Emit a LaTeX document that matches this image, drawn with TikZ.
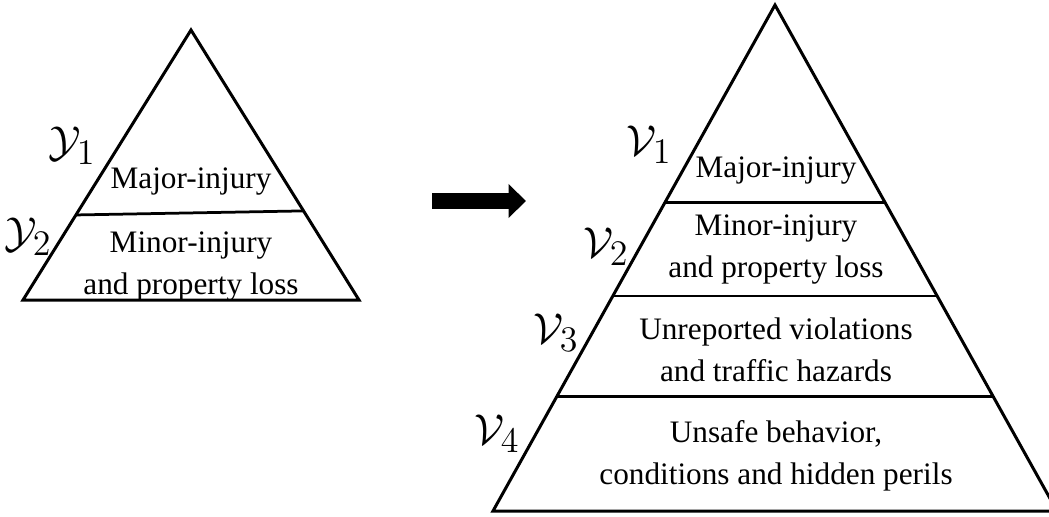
\documentclass[tikz,border=0pt]{standalone}
\usepackage{fontspec}
\setmainfont{Liberation Serif}
\usepackage{amsmath}
\usetikzlibrary{arrows.meta,calc}

\begin{document}
\begin{tikzpicture}[x=0.4pt,y=-0.4pt,
  edge/.style={line width=1.2pt, line join=miter},
  split/.style={line width=1.1pt},
  layer/.style={font=\fontsize{12.5}{16.8}\selectfont, align=center, inner sep=0pt},
  tag/.style={font=\fontsize{19}{19}\selectfont, inner sep=0pt}]
  \useasboundingbox (0,0) rectangle (1049,516);

  % Left pyramid
  \coordinate (ltop) at (191,30);
  \coordinate (lleft) at (23,300);
  \coordinate (lright) at (359,300);
  \draw[edge] (ltop) -- (lleft) -- (lright) -- cycle;
  \draw[split] ($(ltop)!0.685!(lleft)$) -- ($(ltop)!0.67!(lright)$);

  \node[layer] (lmajor) at (191,182) {Major-injury};
  \node[layer] (lminor) at (191,267) {Minor-injury\\and property loss};
  \node[tag] (y1) at (72,146) {$\mathcal{Y}_1$};
  \node[tag] (y2) at (28,237) {$\mathcal{Y}_2$};

  % Arrow
  \coordinate (afrom) at (432,201);
  \coordinate (ato) at (526,201);
  \draw[line width=6.4pt, -{Triangle[length=7pt,width=13.2pt]}] (afrom) -- (ato);

  % Right pyramid
  \coordinate (rtop) at (775,5);
  \coordinate (rleft) at (493,511);
  \coordinate (rright) at (1057,511);
  \draw[edge] (rtop) -- (rleft) -- (rright) -- cycle;
  \foreach \f in {0.391,0.575,0.773}
    \draw[split] ($(rtop)!\f!(rleft)$) -- ($(rtop)!\f!(rright)$);

  \node[layer] (rmajor) at (776,171) {Major-injury};
  \node[layer] (rminor) at (776,250) {Minor-injury\\and property loss};
  \node[layer] (rviol) at (776,350) {Unreported violations\\and traffic hazards};
  \node[layer] (runsafe) at (776,456) {Unsafe behavior,\\conditions and hidden perils};
  \node[tag] (v1) at (649,145) {$\mathcal{V}_1$};
  \node[tag] (v2) at (606,247) {$\mathcal{V}_2$};
  \node[tag] (v3) at (556,333) {$\mathcal{V}_3$};
  \node[tag] (v4) at (497,434) {$\mathcal{V}_4$};

\end{tikzpicture}
\end{document}
